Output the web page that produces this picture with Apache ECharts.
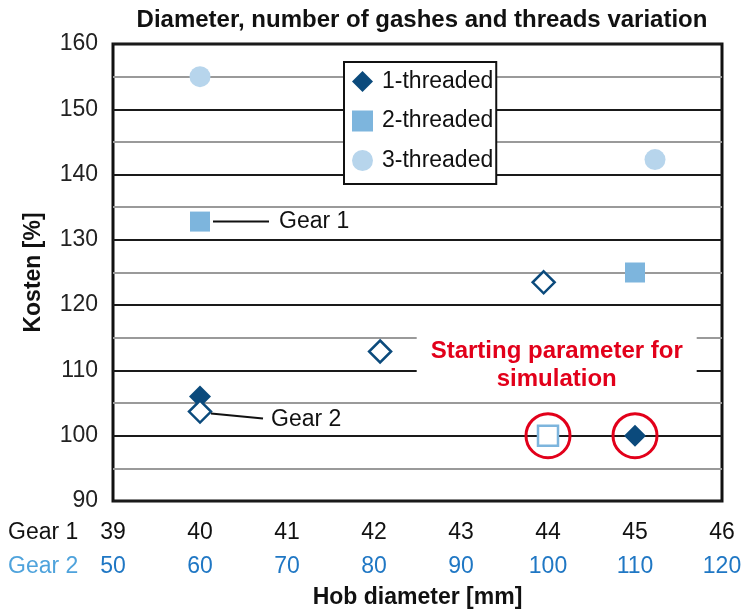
<!DOCTYPE html>
<html>
<head>
<meta charset="utf-8">
<script src="https://cdn.jsdelivr.net/npm/echarts@6/dist/echarts.min.js"></script>
<style>
  html, body { margin: 0; padding: 0; background: #fff; }
  #chart { width: 751px; height: 614px; }
</style>
</head>
<body>
<div id="chart"></div>
<script>
// tick labels of the two hob diameter rows
const gear1Ticks = [39, 40, 41, 42, 43, 44, 45, 46];
const gear2Ticks = [50, 60, 70, 80, 90, 100, 110, 120];
const costTicks = [90, 100, 110, 120, 130, 140, 150, 160];

// [hob diameter (gear 1 scale), Kosten %]
const thread1Filled = [[40, 106], [45, 100]];
const thread1Hollow = [[40, 103.7], [42.07, 112.9], [43.95, 123.5]];
const thread2Filled = [[40, 132.8], [45, 125]];
const thread2Hollow = [[44, 100]];
const thread3 = [[40, 155], [45.23, 142.3]];
const startParams = [[44, 100], [45, 100]];

const navy = '#0b4a7c';
const midBlue = '#7db5dd';
const lightBlue = '#b7d5ec';
const red = '#e2001a';
const font = 'Arial, "Liberation Sans", sans-serif';

const chart = echarts.init(document.getElementById('chart'));

const option = {
  backgroundColor: '#fff',
  animation: false,
  textStyle: { fontFamily: font },
  title: {
    text: 'Diameter, number of gashes and threads variation',
    left: 417, top: 3, textAlign: 'center',
    textStyle: { fontSize: 24, fontWeight: 'bold', color: '#111', fontFamily: font }
  },
  grid: {
    left: 113, right: 29, top: 44, bottom: 112,
    show: true, borderColor: '#111', borderWidth: 3, backgroundColor: 'transparent'
  },
  legend: {
    orient: 'vertical',
    left: 344, top: 62,
    data: [
      { name: '1-threaded', icon: 'diamond' },
      { name: '2-threaded', icon: 'rect' },
      { name: '3-threaded', icon: 'circle' }
    ],
    itemWidth: 21, itemHeight: 21, itemGap: 16.5,
    padding: [8, 3, 12, 8],
    backgroundColor: '#fff', borderColor: '#111', borderWidth: 2, borderRadius: 0,
    textStyle: { fontSize: 23, color: '#111', lineHeight: 22, padding: [0, 0, 0, 4], fontFamily: font },
    z: 5
  },
  xAxis: [
    {
      type: 'value',
      min: gear1Ticks[0], max: gear1Ticks[gear1Ticks.length - 1], interval: 1,
      axisLine: { show: false }, axisTick: { show: false }, splitLine: { show: false },
      axisLabel: { fontSize: 23, color: '#111', margin: 20, fontFamily: font }
    },
    {
      type: 'value', position: 'bottom', offset: 34,
      min: gear2Ticks[0], max: gear2Ticks[gear2Ticks.length - 1], interval: 10,
      axisLine: { show: false }, axisTick: { show: false }, splitLine: { show: false },
      axisLabel: { fontSize: 23, color: '#1f77c4', margin: 20, fontFamily: font },
      name: 'Hob diameter [mm]', nameLocation: 'middle', nameGap: 51,
      nameTextStyle: { fontSize: 23, fontWeight: 'bold', color: '#111', fontFamily: font }
    }
  ],
  yAxis: {
    type: 'value',
    min: costTicks[0], max: costTicks[costTicks.length - 1], interval: 10,
    name: 'Kosten [%]', nameLocation: 'middle', nameGap: 68,
    nameTextStyle: { fontSize: 23, fontWeight: 'bold', color: '#111', fontFamily: font },
    axisLine: { show: false }, axisTick: { show: false },
    axisLabel: { fontSize: 23, color: '#222', margin: 15, fontFamily: font },
    splitLine: { show: true, lineStyle: { color: '#1a1a1a', width: 2 } },
    minorTick: { show: false, splitNumber: 2 },
    minorSplitLine: { show: true, lineStyle: { color: '#9a9a9a', width: 2 } }
  },
  series: [
    {
      name: '1-threaded', type: 'scatter', symbol: 'diamond', symbolSize: 22,
      itemStyle: { color: navy, opacity: 1 }, data: thread1Filled, z: 3
    },
    {
      name: '1-threaded gear 2', type: 'scatter', symbol: 'diamond', symbolSize: 22,
      itemStyle: { color: '#fff', borderColor: navy, borderWidth: 2.5, opacity: 1 },
      data: thread1Hollow, z: 3
    },
    {
      name: '2-threaded', type: 'scatter', symbol: 'rect', symbolSize: 20,
      itemStyle: { color: midBlue, opacity: 1 }, data: thread2Filled, z: 3
    },
    {
      name: '2-threaded gear 2', type: 'scatter', symbol: 'rect', symbolSize: 20,
      itemStyle: { color: '#fff', borderColor: midBlue, borderWidth: 2.5, opacity: 1 },
      data: thread2Hollow, z: 3
    },
    {
      name: '3-threaded', type: 'scatter', symbol: 'circle', symbolSize: 21,
      itemStyle: { color: lightBlue, opacity: 1 }, data: thread3, z: 3
    },
    {
      name: 'start', type: 'scatter', symbol: 'circle', symbolSize: 44,
      itemStyle: { color: 'rgba(0,0,0,0)', borderColor: red, borderWidth: 3, opacity: 1 },
      data: startParams, z: 4, silent: true
    }
  ]
};
chart.setOption(option);

// annotations placed relative to the plotted points
const g1 = chart.convertToPixel({ gridIndex: 0 }, thread2Filled[0]);
const g2 = chart.convertToPixel({ gridIndex: 0 }, thread1Hollow[0]);
const s = chart.convertToPixel({ gridIndex: 0 }, [44.1, 111.5]);

chart.setOption({
  graphic: [
    { type: 'line', z: 10, shape: { x1: g1[0] + 13, y1: g1[1], x2: g1[0] + 69, y2: g1[1] },
      style: { stroke: '#111', lineWidth: 2 } },
    { type: 'text', z: 10, x: g1[0] + 79, y: g1[1],
      style: { text: 'Gear 1', fill: '#111', font: '23px ' + font, verticalAlign: 'middle' } },
    { type: 'line', z: 10, shape: { x1: g2[0] + 11, y1: g2[1] + 2, x2: g2[0] + 63, y2: g2[1] + 7 },
      style: { stroke: '#111', lineWidth: 2 } },
    { type: 'text', z: 10, x: g2[0] + 71, y: g2[1] + 8,
      style: { text: 'Gear 2', fill: '#111', font: '23px ' + font, verticalAlign: 'middle' } },
    { type: 'rect', z: 10, shape: { x: s[0] - 140, y: s[1] - 40, width: 280, height: 72 },
      style: { fill: '#fff' } },
    { type: 'text', z: 11, x: s[0], y: s[1] - 9,
      style: { text: 'Starting parameter for', fill: red, font: 'bold 24px ' + font, align: 'center', verticalAlign: 'middle' } },
    { type: 'text', z: 11, x: s[0], y: s[1] + 19,
      style: { text: 'simulation', fill: red, font: 'bold 24px ' + font, align: 'center', verticalAlign: 'middle' } },
    { type: 'text', z: 10, left: 8, top: 521,
      style: { text: 'Gear 1', fill: '#111', font: '23px ' + font } },
    { type: 'text', z: 10, left: 8, top: 555,
      style: { text: 'Gear 2', fill: '#4fa3dc', font: '23px ' + font } }
  ]
});
</script>
</body>
</html>
